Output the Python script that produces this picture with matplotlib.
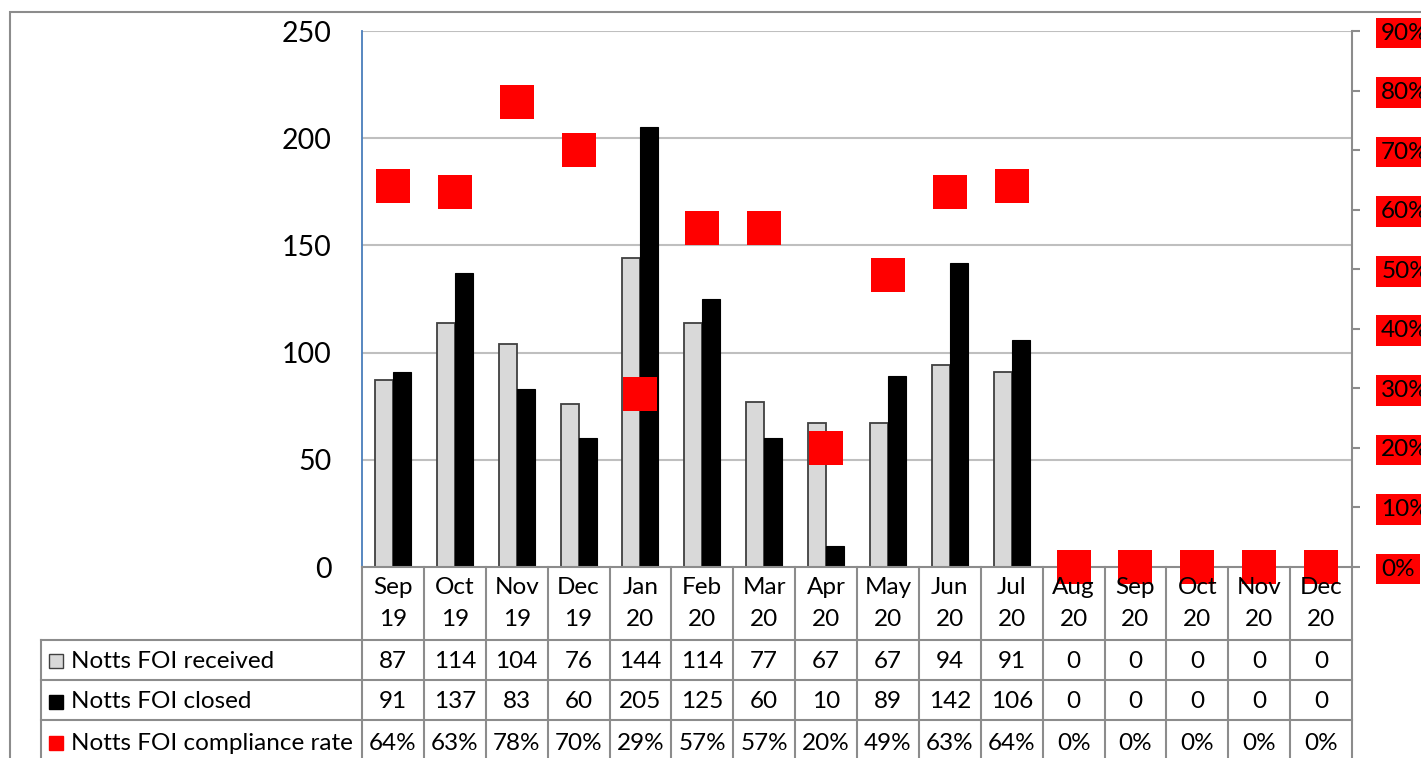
import matplotlib
matplotlib.use("Agg")
import matplotlib.pyplot as plt
import matplotlib.transforms as mtransforms
from matplotlib.patches import Rectangle
from matplotlib.lines import Line2D

plt.rcParams['font.family'] = ['Lato', 'DejaVu Sans']

# ---- data ----
months = ["Sep", "Oct", "Nov", "Dec", "Jan", "Feb", "Mar", "Apr", "May", "Jun",
          "Jul", "Aug", "Sep", "Oct", "Nov", "Dec"]
years = ["19", "19", "19", "19", "20", "20", "20", "20", "20", "20",
         "20", "20", "20", "20", "20", "20"]
received = [87, 114, 104, 76, 144, 114, 77, 67, 67, 94, 91, 0, 0, 0, 0, 0]
closed = [91, 137, 83, 60, 205, 125, 60, 10, 89, 142, 106, 0, 0, 0, 0, 0]
compliance = [64, 63, 78, 70, 29, 57, 57, 20, 49, 63, 64, 0, 0, 0, 0, 0]
series_names = ["Notts FOI received", "Notts FOI closed", "Notts FOI compliance rate"]
left_ticks = [0, 50, 100, 150, 200, 250]
right_ticks = [0, 10, 20, 30, 40, 50, 60, 70, 80, 90]

# ---- figure geometry (pixels) ----
W, H, DPI = 1421, 758, 100
fig = plt.figure(figsize=(W / DPI, H / DPI), dpi=DPI)
fig.patch.set_facecolor("white")

def fy(py):
    """Convert a pixel row (from top) to a figure fraction."""
    return 1 - py / H

def fx(px):
    return px / W

plot_l, plot_r, plot_t, plot_b = 362, 1352, 31, 567
ax = fig.add_axes([fx(plot_l), fy(plot_b), fx(plot_r - plot_l), (plot_b - plot_t) / H])

n = len(months)
xs = list(range(n))
ax.set_xlim(-0.5, n - 0.5)
ax.set_ylim(0, 250)

# outer chart frame
fig.add_artist(Rectangle((fx(10), fy(800)), fx(1500), (800 - 12) / H,
                         transform=fig.transFigure, fill=False,
                         edgecolor="#8c8c8c", linewidth=1.5, zorder=0))

# gridlines
for t in left_ticks[1:]:
    ax.axhline(t, color="#bfbfbf", linewidth=1.5, zorder=0)

bw = 0.29
ax.bar([x - 0.145 for x in xs], received, width=bw, color="#d9d9d9",
       edgecolor="#404040", linewidth=1.3, zorder=2)
ax.bar([x + 0.145 for x in xs], closed, width=bw, color="black",
       edgecolor="black", linewidth=0.8, zorder=2)

for s in ["top", "right"]:
    ax.spines[s].set_visible(False)
ax.spines["left"].set_color("#4a7ebb")
ax.spines["left"].set_linewidth(1.3)
ax.spines["bottom"].set_color("#8c8c8c")
ax.spines["bottom"].set_linewidth(1.5)
ax.set_xticks([])
ax.set_yticks(left_ticks)
ax.set_yticklabels([str(t) for t in left_ticks], fontsize=20.5)
ax.tick_params(axis="y", length=0, pad=22)

# secondary axis for compliance rate
ax2 = ax.twinx()
ax2.set_ylim(0, 90)
ax2.set_xlim(-0.5, n - 0.5)
ax2.plot(xs, compliance, linestyle="none", marker="s", markersize=24,
         color="#ff0000", markeredgewidth=0, zorder=5, clip_on=False)
for s in ["top", "left", "bottom"]:
    ax2.spines[s].set_visible(False)
ax2.spines["right"].set_color("#8c8c8c")
ax2.spines["right"].set_linewidth(1.5)
ax2.set_yticks(right_ticks)
ax2.set_yticklabels([f"{t}%" for t in right_ticks], fontsize=17.5)
ax2.tick_params(axis="y", length=6, width=1.5, color="#8c8c8c", pad=15)
for lab in ax2.get_yticklabels():
    lab.set_bbox(dict(boxstyle="square,pad=0.2", facecolor="#ff0000",
                      edgecolor="none"))
ax.set_zorder(1)
ax2.set_zorder(2)
ax2.patch.set_visible(False)

# ---- data table under the plot ----
tr = mtransforms.blended_transform_factory(ax.transData, fig.transFigure)
grid_c = "#8c8c8c"
lw = 1.5
row_lines = [640, 680, 720]
table_left = 41

# horizontal rules
for py in row_lines:
    fig.add_artist(Line2D([fx(table_left), fx(plot_r)], [fy(py), fy(py)],
                          transform=fig.transFigure, color=grid_c, linewidth=lw))
# left edge of label column
fig.add_artist(Line2D([fx(table_left), fx(table_left)], [fy(640), fy(800)],
                      transform=fig.transFigure, color=grid_c, linewidth=lw))
# column separators
for k in range(n + 1):
    xb = k - 0.5
    fig.add_artist(Line2D([xb, xb], [fy(567), fy(800)], transform=tr,
                          color=grid_c, linewidth=lw))

fs = 17.5
for i in xs:
    fig.text(i, fy(588), months[i], transform=tr, ha="center", va="center", fontsize=fs)
    fig.text(i, fy(620), years[i], transform=tr, ha="center", va="center", fontsize=fs)
    fig.text(i, fy(661), str(received[i]), transform=tr, ha="center", va="center", fontsize=fs)
    fig.text(i, fy(702), str(closed[i]), transform=tr, ha="center", va="center", fontsize=fs)
    fig.text(i, fy(743), f"{compliance[i]}%", transform=tr, ha="center", va="center", fontsize=fs)

# legend keys with series names
key_styles = [("#d9d9d9", "#404040"), ("black", "black"), ("#ff0000", "#ff0000")]
for (fc, ec), name, py in zip(key_styles, series_names, [661, 702, 743]):
    fig.add_artist(Rectangle((fx(49), fy(py + 7)), fx(14), 14 / H,
                             transform=fig.transFigure, facecolor=fc,
                             edgecolor=ec, linewidth=1))
    fig.text(fx(71), fy(py), name, ha="left", va="center", fontsize=fs)

fig.savefig("out.png", dpi=DPI)
